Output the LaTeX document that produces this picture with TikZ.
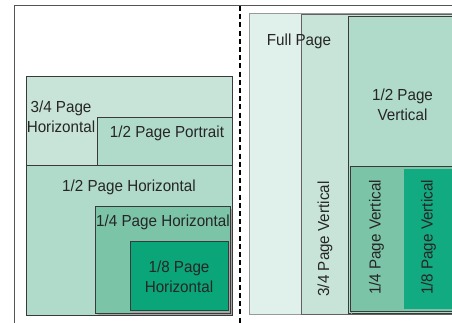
\documentclass[tikz,border=0pt]{standalone}
\usepackage{fontspec}
\setmainfont{Liberation Sans}[FakeStretch=0.95]
\definecolor{cA}{HTML}{E0F0EA}
\definecolor{cB}{HTML}{C8E4D8}
\definecolor{cC}{HTML}{B0DACA}
\definecolor{cD}{HTML}{7CC4A8}
\definecolor{cE}{HTML}{0AA578}
\definecolor{cEv}{HTML}{12AA80}
\definecolor{edge}{HTML}{3A3A3A}
\definecolor{frame}{HTML}{555555}
\definecolor{txt}{HTML}{262626}
\begin{document}
\begin{tikzpicture}[x=1pt,y=-1pt,
  lbl/.style={text=txt,font=\fontsize{16}{20}\selectfont,align=center,inner sep=0pt},
  boxd/.style={draw=edge,line width=0.9pt},
  boxl/.style={draw=gray!80,line width=0.9pt},
  shade/.style={draw=gray!70,line width=0.9pt}]
\useasboundingbox (0,0) rectangle (452,323);
\fill[white] (0,0) rectangle (452,323);
% ---------- right side ----------
\filldraw[boxl,fill=cA] (249,13.5) rectangle (460,314.5);
\filldraw[boxd,draw=edge!80,fill=cB] (301,14.5) rectangle (460,314.5);
\filldraw[boxd,fill=cC] (348.5,16.5) rectangle (460,313);
\draw[shade] (351.5,168) -- (351.5,313.5);
\filldraw[boxd,fill=cD] (350,166) rectangle (460,311.5);
\fill[cEv] (404,169) rectangle (460,309);
% ---------- left side ----------
\filldraw[boxd,fill=cB] (26.7,76.7) rectangle (232.3,165.3);
\filldraw[boxd,fill=cC] (97.3,117.7) rectangle (232.3,165.3);
\filldraw[boxd,fill=cC] (26.7,165.3) rectangle (232.3,315);
\draw[shade] (97.5,314.8) -- (231.5,314.8) -- (231.5,208.5);
\filldraw[boxd,fill=cD] (95.7,206.7) rectangle (230,313.3);
\draw[shade] (131.8,312.3) -- (229.8,312.3) -- (229.8,243.5);
\filldraw[boxd,fill=cE] (130,241.7) rectangle (228.3,310.7);
% ---------- frame and divider ----------
\draw[frame,line width=1.3pt] (14.5,323) -- (14.5,5.5) -- (452,5.5);
\draw[black,line width=2.6pt,dash pattern=on 5pt off 3.2pt] (240,6) -- (240,323);
% ---------- labels ----------
\node[lbl] (h34) at (61,117) {3/4 Page\\Horizontal};
\node[lbl] (p12) at (167,133) {1/2 Page Portrait};
\node[lbl] (h12) at (129,187) {1/2 Page Horizontal};
\node[lbl] (h14) at (163,222.5) {1/4 Page Horizontal};
\node[lbl] (h18) at (179,276.5) {1/8 Page\\Horizontal};
\node[lbl] (full) at (299,41.5) {Full Page};
\node[lbl] (v12) at (402.5,105) {1/2 Page\\Vertical};
\node[lbl,rotate=90] (v34) at (325,239) {3/4 Page Vertical};
\node[lbl,rotate=90] (v14) at (376.5,237.5) {1/4 Page Vertical};
\node[lbl,rotate=90] (v18) at (428.5,237.5) {1/8 Page Vertical};
\end{tikzpicture}
\end{document}
